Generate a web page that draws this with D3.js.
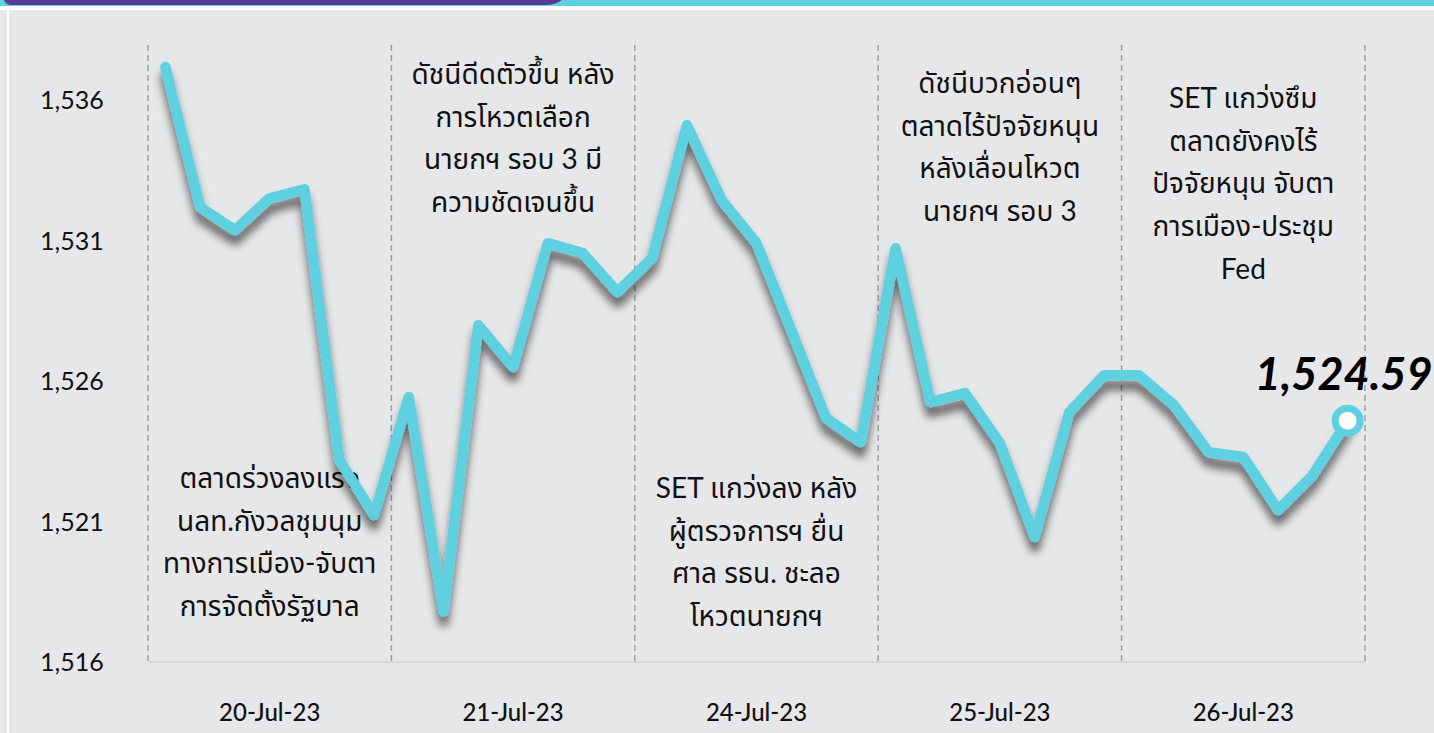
<!DOCTYPE html>
<html>
<head>
<meta charset="utf-8">
<script src="https://cdn.jsdelivr.net/npm/d3@7"></script>
<style>
  html, body { margin: 0; padding: 0; background: #e6e7e9; overflow: hidden; }
  svg { display: block; }
</style>
</head>
<body>
<svg id="chart" width="1434" height="733"></svg>
<script>
// ---------- data ----------
const dayLabels = ["20-Jul-23", "21-Jul-23", "24-Jul-23", "25-Jul-23", "26-Jul-23"];
const setIndex = [
  1537.18, 1532.19, 1531.37, 1532.51, 1532.83, 1523.19, 1521.23,
  1525.43, 1517.80, 1527.99, 1526.50, 1530.91, 1530.56, 1529.17,
  1530.38, 1535.11, 1532.44, 1530.91, 1527.81, 1524.68, 1523.83,
  1530.73, 1525.25, 1525.57, 1523.79, 1520.45, 1524.90, 1526.21,
  1526.21, 1525.15, 1523.47, 1523.30, 1521.41, 1522.65, 1524.59
];
const yTicks = [1516, 1521, 1526, 1531, 1536];
const yTickLabels = ["1,516", "1,521", "1,526", "1,531", "1,536"];
const annotations = [
  ["ตลาดร่วงลงแรง", "นลท.กังวลชุมนุม", "ทางการเมือง-จับตา", "การจัดตั้งรัฐบาล"],
  ["ดัชนีดีดตัวขึ้น หลัง", "การโหวตเลือก", "นายกฯ รอบ 3 มี", "ความชัดเจนขึ้น"],
  ["SET แกว่งลง หลัง", "ผู้ตรวจการฯ ยื่น", "ศาล รธน. ชะลอ", "โหวตนายกฯ"],
  ["ดัชนีบวกอ่อนๆ", "ตลาดไร้ปัจจัยหนุน", "หลังเลื่อนโหวต", "นายกฯ รอบ 3"],
  ["SET แกว่งซึม", "ตลาดยังคงไร้", "ปัจจัยหนุน จับตา", "การเมือง-ประชุม", "Fed"]
];
const lastLabel = "1,524.59";

(function () {
// ---------- layout ----------
const W = 1434, H = 733;
const pl = 148, pr = 1365, pt = 44, pb = 662;
const LINE = "#5fd0df";
const FONT = "Lato, 'Noto Sans', 'Noto Sans Thai', sans-serif";

const svg = d3.select("#chart");

// header bars & frame
svg.append("rect").attr("x", 0).attr("y", 0).attr("width", W).attr("height", H).attr("fill", "#e6e7e9");
svg.append("rect").attr("x", 0).attr("y", 0).attr("width", W).attr("height", 6).attr("fill", LINE);
svg.append("rect").attr("x", 0).attr("y", 6).attr("width", W).attr("height", 4).attr("fill", "#ffffff");
svg.append("path")
  .attr("d", "M4,0 H562 Q556,5 544,5 H10 Q5,4 4,0 Z")
  .attr("fill", "#573b96");
svg.append("rect").attr("x", 7).attr("y", 10).attr("width", 2).attr("height", H - 10).attr("fill", "#ffffff");

// scales
const x = d3.scaleBand().domain(d3.range(setIndex.length)).range([pl, pr]).padding(0);
const xDay = d3.scaleBand().domain(dayLabels).range([pl, pr]).padding(0);
const y = d3.scaleLinear().domain([1516, 1538]).range([pb, pt]);
const cx = i => x(i) + x.bandwidth() / 2;

// defs: shadow
const defs = svg.append("defs");
const f = defs.append("filter").attr("id", "shadow")
  .attr("filterUnits", "userSpaceOnUse")
  .attr("x", 0).attr("y", 0).attr("width", W).attr("height", H);
f.append("feDropShadow").attr("dx", 0).attr("dy", 10).attr("stdDeviation", 4.5)
  .attr("flood-color", "#000").attr("flood-opacity", 0.55);

// baseline
svg.append("line")
  .attr("x1", pl).attr("x2", pr).attr("y1", pb).attr("y2", pb)
  .attr("stroke", "#d6d7d9").attr("stroke-width", 2);

// dashed day separators
const bounds = dayLabels.map(d => xDay(d)).concat([xDay(dayLabels[dayLabels.length - 1]) + xDay.bandwidth()]);
svg.append("g").selectAll("line").data(bounds).join("line")
  .attr("x1", d => d).attr("x2", d => d)
  .attr("y1", pt + 1).attr("y2", pb)
  .attr("stroke", "#9d9ea0").attr("stroke-width", 1.5)
  .attr("stroke-dasharray", "6,4");

// y labels
svg.append("g").selectAll("text").data(yTicks).join("text")
  .attr("x", 40).attr("y", d => y(d))
  .attr("dy", "0.36em")
  .attr("font-family", FONT).attr("font-size", 25).attr("fill", "#111")
  .text((d, i) => yTickLabels[i]);

// x labels
svg.append("g").selectAll("text").data(dayLabels).join("text")
  .attr("x", d => xDay(d) + xDay.bandwidth() / 2).attr("y", 712)
  .attr("dy", "0.36em")
  .attr("text-anchor", "middle")
  .attr("font-family", FONT).attr("font-size", 24).attr("font-weight", 500).attr("fill", "#111")
  .text(d => d);

// annotations
const annoTop = [488, 84, 498, 93, 108];
const lh = 42.7;
annotations.forEach((lines, k) => {
  const g = svg.append("g");
  g.selectAll("text").data(lines).join("text")
    .attr("x", xDay(dayLabels[k]) + xDay.bandwidth() / 2)
    .attr("y", (d, i) => annoTop[k] + i * lh)
    .attr("text-anchor", "middle")
    .attr("font-family", FONT).attr("font-size", 28).attr("fill", "#111")
    .text(d => d);
});

// line
const line = d3.line().x((d, i) => cx(i)).y(d => y(d));
svg.append("path")
  .datum(setIndex)
  .attr("d", line)
  .attr("fill", "none")
  .attr("stroke", LINE)
  .attr("stroke-width", 10.5)
  .attr("stroke-linejoin", "round")
  .attr("stroke-linecap", "round")
  .attr("filter", "url(#shadow)");

// last point
const li = setIndex.length - 1;
svg.append("circle")
  .attr("cx", cx(li)).attr("cy", y(setIndex[li]))
  .attr("r", 12.5)
  .attr("fill", "#fff")
  .attr("stroke", LINE).attr("stroke-width", 7);

svg.append("text")
  .attr("x", cx(li) - 4).attr("y", y(setIndex[li]) - 31)
  .attr("text-anchor", "middle")
  .attr("font-family", FONT).attr("font-size", 45)
  .attr("font-weight", "bold").attr("font-style", "italic")
  .attr("fill", "#000")
  .text(lastLabel);
})();
</script>
</body>
</html>
